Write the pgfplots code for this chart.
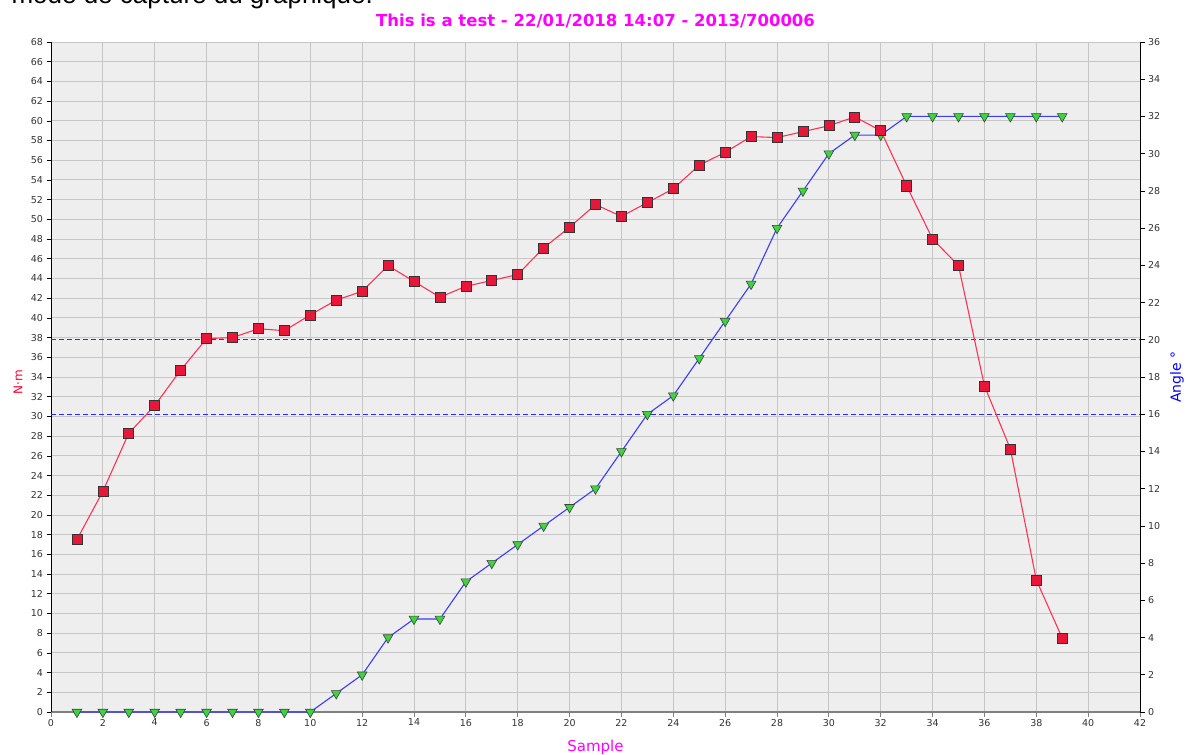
\documentclass[border=0pt]{standalone}
\usepackage{pgfplots}
\pgfplotsset{compat=1.18}
\usepackage{fontspec}
\setmainfont{DejaVu Sans}
\newfontfamily\capfont{Liberation Sans}
\definecolor{bgc}{HTML}{EEEEEE}
\definecolor{gridc}{HTML}{C6C6C6}
\definecolor{torqline}{HTML}{FF3355}
\definecolor{sqfill}{HTML}{E8173A}
\definecolor{angline}{HTML}{3C3CFF}
\definecolor{dashc}{HTML}{2828FF}
\definecolor{trifill}{HTML}{3AD63A}
\definecolor{titlec}{HTML}{FF00FF}
\definecolor{nmred}{HTML}{FF0033}
\definecolor{angblue}{HTML}{0000FF}
\definecolor{ticklab}{HTML}{333333}
\begin{document}
\begin{tikzpicture}
% left axis: grid, background, ticks
\begin{axis}[name=ax1, scale only axis, width=1089pt, height=670pt,
  xmin=0, xmax=42, ymin=0, ymax=68,
  axis x line*=bottom, axis y line*=left,
  axis line style={-},
  x axis line style={draw=gray, line width=1.4pt},
  y axis line style={draw=black, line width=0.8pt},
  xtick={0,2,...,42}, ytick={0,2,...,68},
  grid=major, major grid style={draw=gridc, line width=0.9pt},
  axis background/.style={fill=bgc},
  tick align=outside, major tick length=4.5pt,
  xtick style={draw=gray, line width=0.8pt},
  ytick style={draw=black, line width=0.6pt},
  tick label style={font=\fontsize{9.5}{11}\selectfont, text=ticklab},
  /pgf/number format/assume math mode=true,
  xticklabel style={yshift=1pt},
]
\end{axis}
% right axis: angle
\begin{axis}[name=ax2, scale only axis, width=1089pt, height=670pt,
  xmin=0, xmax=42, ymin=0, ymax=36,
  axis x line=none, axis y line*=right,
  axis line style={-, draw=black, line width=0.8pt},
  ytick={0,2,...,36},
  tick align=outside, major tick length=4.5pt,
  ytick style={draw=black, line width=0.6pt},
  tick label style={font=\fontsize{9.5}{11}\selectfont, text=ticklab},
  /pgf/number format/assume math mode=true,
  clip=false,
]
\addplot[dashc, line width=1pt, dash pattern=on 5pt off 3pt] coordinates {(0,20) (42,20)};
\addplot[dashc, line width=1pt, dash pattern=on 5pt off 3pt] coordinates {(0,16) (42,16)};
\addplot[angline, line width=1.1pt, mark=triangle*, mark size=5.6pt,
  mark options={rotate=180, fill=trifill, draw=black!75, line width=0.6pt, solid}]
  table {
x y
1 0
2 0
3 0
4 0
5 0
6 0
7 0
8 0
9 0
10 0
11 1
12 2
13 4
14 5
15 5
16 7
17 8
18 9
19 10
20 11
21 12
22 14
23 16
24 17
25 19
26 21
27 23
28 26
29 28
30 30
31 31
32 31
33 32
34 32
35 32
36 32
37 32
38 32
39 32
};
\end{axis}
% torque on left scale
\begin{axis}[name=ax3, scale only axis, width=1089pt, height=670pt,
  xmin=0, xmax=42, ymin=0, ymax=68, hide axis, clip=false]
\addplot[torqline, line width=1.1pt, mark=square*, mark size=5pt,
  mark options={fill=sqfill, draw=black!80, line width=0.7pt, solid}]
  table {
x y
1 17.5
2 22.4
3 28.3
4 31.1
5 34.7
6 37.9
7 38.0
8 38.9
9 38.7
10 40.3
11 41.8
12 42.7
13 45.3
14 43.7
15 42.1
16 43.2
17 43.8
18 44.4
19 47.1
20 49.2
21 51.5
22 50.3
23 51.7
24 53.1
25 55.5
26 56.8
27 58.4
28 58.3
29 58.9
30 59.5
31 60.4
32 59.0
33 53.4
34 48.0
35 45.3
36 33.1
37 26.7
38 13.4
39 7.5
};
\end{axis}
\node[anchor=base, font=\bfseries\fontsize{16.5}{20}\selectfont, text=titlec]
  at ([yshift=15pt]ax1.north) {This is a test - 22/01/2018 14:07 - 2013/700006};
\node[anchor=base, font=\fontsize{15}{18}\selectfont, text=titlec]
  at ([yshift=-39pt]ax1.south) {Sample};
\node[rotate=90, font=\fontsize{12}{15}\selectfont, text=nmred]
  at ([xshift=-33pt,yshift=-5pt]ax1.west) {N·m};
\node[rotate=90, font=\fontsize{14}{16}\selectfont, text=angblue]
  at ([xshift=37pt]ax1.east) {Angle °};
\node[anchor=base west, font=\capfont\fontsize{26}{30}\selectfont, text=black]
  at ([shift={(-43pt,38pt)}]ax1.north west) {mode de capture du graphique.};
\pgfresetboundingbox
\path[use as bounding box] ([shift={(-51pt,-42pt)}]ax1.south west) rectangle ([shift={(49pt,42pt)}]ax1.north east);
\end{tikzpicture}
\end{document}
